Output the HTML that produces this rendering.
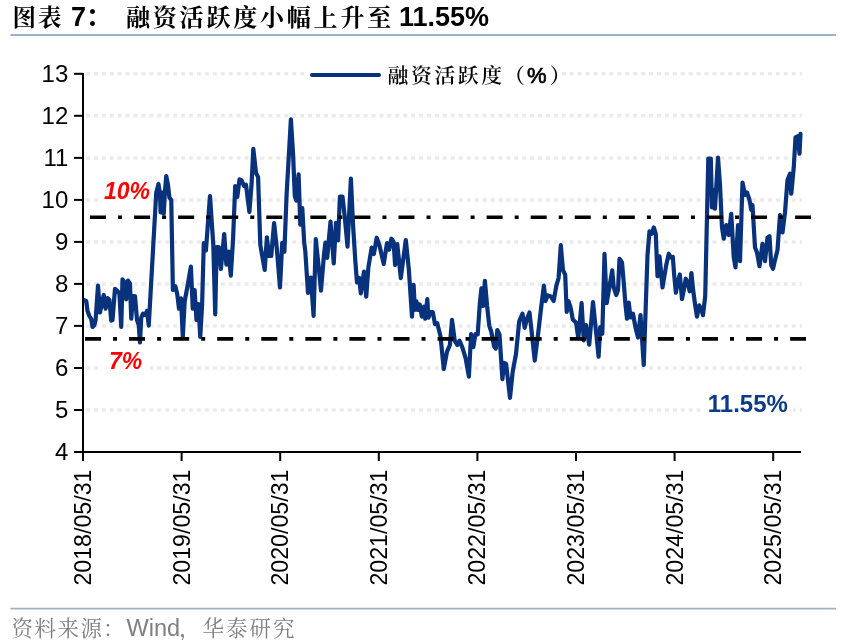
<!DOCTYPE html>
<html><head><meta charset="utf-8"><style>
html,body{margin:0;padding:0;background:#fff;}
body{width:841px;height:640px;overflow:hidden;position:relative;}
svg{position:absolute;left:0;top:0;}
.ax{font-family:"Liberation Sans",Arial,sans-serif;font-size:24px;fill:#000;}
.cjk{font-family:"Liberation Serif","Noto Serif CJK SC",serif;}
</style></head><body>
<svg width="841" height="640" viewBox="0 0 841 640">
<text y="26" style="font-family:'Liberation Serif','Noto Serif CJK SC',serif;font-size:23.5px;font-weight:700;fill:#000;letter-spacing:2px"><tspan x="12.5">图表</tspan></text>
<text x="71" y="26" style="font-family:'Liberation Sans',sans-serif;font-size:27px;font-weight:bold;fill:#000">7</text>
<text x="86" y="26" style="font-family:'Liberation Sans','Noto Sans CJK SC',sans-serif;font-size:26px;font-weight:bold;fill:#000">：</text>
<text x="126" y="26" style="font-family:'Liberation Serif','Noto Serif CJK SC',serif;font-size:24px;font-weight:700;fill:#000;letter-spacing:2.8px">融资活跃度小幅上升至</text>
<text x="399" y="26" style="font-family:'Liberation Sans',sans-serif;font-size:27px;font-weight:bold;fill:#000">11.55%</text>
<line x1="10.5" y1="35" x2="836" y2="35" stroke="#9db1cb" stroke-width="2"/>
<line x1="86" y1="410.0" x2="802" y2="410.0" stroke="#ebebeb" stroke-width="3.5" stroke-dasharray="4 3.93"/>
<line x1="86" y1="368.0" x2="802" y2="368.0" stroke="#ebebeb" stroke-width="3.5" stroke-dasharray="4 3.93"/>
<line x1="86" y1="325.9" x2="802" y2="325.9" stroke="#ebebeb" stroke-width="3.5" stroke-dasharray="4 3.93"/>
<line x1="86" y1="283.9" x2="802" y2="283.9" stroke="#ebebeb" stroke-width="3.5" stroke-dasharray="4 3.93"/>
<line x1="86" y1="241.9" x2="802" y2="241.9" stroke="#ebebeb" stroke-width="3.5" stroke-dasharray="4 3.93"/>
<line x1="86" y1="199.9" x2="802" y2="199.9" stroke="#ebebeb" stroke-width="3.5" stroke-dasharray="4 3.93"/>
<line x1="86" y1="157.9" x2="802" y2="157.9" stroke="#ebebeb" stroke-width="3.5" stroke-dasharray="4 3.93"/>
<line x1="86" y1="115.8" x2="802" y2="115.8" stroke="#ebebeb" stroke-width="3.5" stroke-dasharray="4 3.93"/>
<line x1="86" y1="73.8" x2="802" y2="73.8" stroke="#ebebeb" stroke-width="3.5" stroke-dasharray="4 3.93"/>

<rect x="307" y="62" width="255" height="26" fill="#fff"/>
<line x1="312" y1="75" x2="379" y2="75" stroke="#08327c" stroke-width="4" stroke-linecap="round"/>
<text y="83.2" style="font-family:'Liberation Serif','Noto Serif CJK SC',serif;font-size:20.8px;font-weight:600;fill:#000"><tspan x="387.5 411 434.4 457.8 481.2">融资活跃度</tspan><tspan x="504">（</tspan><tspan x="549.8">）</tspan></text>
<text x="527" y="83.3" style="font-family:'Liberation Sans',sans-serif;font-size:22px;fill:#000;stroke:#000;stroke-width:0.7px">%</text>
<polyline points="84,300 85,300.6 86.25,301 87.5,311 89.4,316 91.25,319 92.5,327 94.4,325 95.6,320 98,285.6 100,312.5 102,302.5 103.75,295 105.6,308.75 107.5,298 109.4,300 111.25,320.6 112.5,320 115,288.75 117.5,291 119.4,293.75 121.25,327 122.5,279.4 124.4,281.9 126.25,299.4 128,280.6 130,283.75 131.25,318.75 133,296 135,296 137,320 138.75,325 140,342.5 141.25,317.5 143,313.75 145,315 147,311 148.75,325.6 156.25,192.5 158.5,184 160,194 160.6,212.5 162.5,192.5 163.75,213.75 165,191 166.25,176 168,185 169.4,197.5 171.25,200 172.9,290 175.3,286.25 177.2,293.75 179,308.75 181,298.4 182.8,336.9 184.7,301.25 187.5,286.25 190.9,266.6 192.75,308.75 194.6,290 196.5,320 198.4,304 200.25,336.9 202.1,305 203.8,243 205.9,250.6 210,196 213.3,245 215.25,314.4 216.6,247 218.75,247 220.9,269 224.2,234 226.4,264.7 228.6,251.6 230.8,275.6 233,240.6 235.2,186 237.3,197 239.5,179.4 241.7,180.5 244,186 246,184.8 249.4,212 251.6,183.75 253.3,148.75 256,172.8 258.1,177.2 260.3,245 264.7,270 266.9,237.3 269,256 271.25,256 274.1,223 276.7,247.2 280,287.5 282.2,242.8 284.4,251.6 286.6,194.7 290.9,119.3 293.1,154.7 294.8,196 296.4,200.6 298.6,174.4 300.3,224.7 302.3,208 304.2,242.5 305.3,251.25 308,292.8 310.8,277.5 313.6,315.8 315.8,239.2 318.4,264.4 321,290.6 323.9,255.6 325.4,242.5 327.2,257.8 330.5,221.7 333.75,263.3 336,222.8 338.1,240.3 339.9,196.6 342.5,196.6 344.7,216.25 347.5,246.6 350.9,178.6 353.1,225.6 355.3,260.6 357,282.5 359.25,278 360.8,293.4 364,271.6 366.25,296.7 368.4,267.2 371.7,247.5 373.9,254 376.75,237.7 379.4,245.3 383.75,264 387,243 389.2,249.7 391.4,238.75 393.6,242 395.1,265 397.3,244.2 400.8,278.1 405.8,240 408.75,268.4 412,316.6 413.6,284.8 414.9,310 416.4,301.25 418,310 419.7,304.5 421.9,316.6 424,306.7 425.2,318.75 427.3,299 428.4,317.7 430.6,312.2 432.8,312.2 435,324.2 437.2,323.1 440.5,336.25 443.75,369 447,351.6 449.9,345 452,319.8 454.7,340.6 457.3,345 459.5,340.6 462.3,347.2 465.6,358.1 468.9,376.7 471.1,334 473.3,347.2 475.5,334 477.7,334.4 479.8,303.75 481.4,288.4 483.1,306 484.9,280.8 487.1,306 489.25,325.6 491.4,332.2 494.1,346.4 495.8,348.6 497.3,330 499.5,334.4 502.4,379.2 503.9,362.8 506.1,363.9 510,397.8 512.7,371.6 516,354 519.2,321.25 522.5,313.6 524.7,327.8 526.9,319 529.5,312.5 531.7,332.2 534.75,360.6 537.8,336.6 541.1,308.1 543.9,285.6 545.5,301 547.7,295.5 550.9,296.6 553.6,301 556.4,285.6 558.6,278 560.8,245.2 563,270.3 565.2,274.7 566.7,311.9 568.4,301 570.6,307.5 572.8,319.5 576.1,322.8 578.3,338.1 581.6,303.1 583.75,340.3 586,325 589.2,344.7 593,302 595.8,329.4 598.6,356.7 600.2,327.2 602.3,333.75 604.5,253.9 606.7,303.1 612.2,270.3 613.75,287.5 616.25,295 618,290 619.5,258.75 622,262.5 623.75,282.5 625.5,305 627,318.75 628.75,302.5 630.5,317.5 633,313.75 635.5,327.5 638,337.5 640.5,315 643.75,365 647.5,255 649.5,231.25 651.75,233.75 653.75,227.5 655.75,233.75 657.5,276.25 659.5,256.25 662.5,287.5 666.25,265 668.75,253.75 671.1,257.6 672.8,256.9 674.2,275.2 675.9,292.7 677.7,282.2 679.8,274.5 682,299 684,289.2 685.75,278.7 687.6,282.2 689.7,291.3 691.4,273 693.2,290.6 695.3,306.1 697,316.6 699.25,305.4 701.2,308.9 703,315.2 705.2,296.25 708.3,158.5 710.8,158.5 712,207.5 713.75,190 715,208.75 718,157.5 720,185 722,227.5 723.75,238.75 726.25,225 728.75,235 731.25,213.75 733.75,257.5 735.5,267.5 738,225 740,261.25 742.5,182.5 745,195 747,192.5 749.5,200 751.25,210 752.5,205 755,247.5 757,252.5 759.5,266.25 762.5,243.75 765,261.25 767.5,237.5 769.5,236.25 771.25,265 773,268.75 775,260 777.5,250 780,215 782.5,232.5 785,212.5 787.5,180 790,173.75 791.25,193.75 793.75,167.5 795.5,137.5 798,136.25 799.5,153.75 800.5,133.75" fill="none" stroke="#08327c" stroke-width="4.2" stroke-linejoin="round" stroke-linecap="round"/>
<line x1="90" y1="217.3" x2="811" y2="217.3" stroke="#000" stroke-width="3.6" stroke-dasharray="16 12.035 4 12.035"/>
<line x1="85" y1="338.9" x2="806" y2="338.9" stroke="#000" stroke-width="3.6" stroke-dasharray="16 12.035 4 12.035"/>
<line x1="83" y1="73" x2="83" y2="453" stroke="#000" stroke-width="2"/>
<line x1="82" y1="452" x2="801" y2="452" stroke="#000" stroke-width="2"/>
<line x1="74" y1="452.0" x2="83" y2="452.0" stroke="#000" stroke-width="2"/>
<text x="68.3" y="459.8" text-anchor="end" class="ax">4</text>
<line x1="74" y1="410.0" x2="83" y2="410.0" stroke="#000" stroke-width="2"/>
<text x="68.3" y="417.8" text-anchor="end" class="ax">5</text>
<line x1="74" y1="368.0" x2="83" y2="368.0" stroke="#000" stroke-width="2"/>
<text x="68.3" y="375.8" text-anchor="end" class="ax">6</text>
<line x1="74" y1="325.9" x2="83" y2="325.9" stroke="#000" stroke-width="2"/>
<text x="68.3" y="333.7" text-anchor="end" class="ax">7</text>
<line x1="74" y1="283.9" x2="83" y2="283.9" stroke="#000" stroke-width="2"/>
<text x="68.3" y="291.7" text-anchor="end" class="ax">8</text>
<line x1="74" y1="241.9" x2="83" y2="241.9" stroke="#000" stroke-width="2"/>
<text x="68.3" y="249.7" text-anchor="end" class="ax">9</text>
<line x1="74" y1="199.9" x2="83" y2="199.9" stroke="#000" stroke-width="2"/>
<text x="68.3" y="207.7" text-anchor="end" class="ax">10</text>
<line x1="74" y1="157.9" x2="83" y2="157.9" stroke="#000" stroke-width="2"/>
<text x="68.3" y="165.7" text-anchor="end" class="ax">11</text>
<line x1="74" y1="115.8" x2="83" y2="115.8" stroke="#000" stroke-width="2"/>
<text x="68.3" y="123.6" text-anchor="end" class="ax">12</text>
<line x1="74" y1="73.8" x2="83" y2="73.8" stroke="#000" stroke-width="2"/>
<text x="68.3" y="81.6" text-anchor="end" class="ax">13</text>

<line x1="83.0" y1="451" x2="83.0" y2="461" stroke="#000" stroke-width="2"/>
<text transform="translate(91.0,469.5) rotate(-90)" text-anchor="end" class="ax" style="font-size:23.2px">2018/05/31</text>
<line x1="181.6" y1="451" x2="181.6" y2="461" stroke="#000" stroke-width="2"/>
<text transform="translate(189.6,469.5) rotate(-90)" text-anchor="end" class="ax" style="font-size:23.2px">2019/05/31</text>
<line x1="280.2" y1="451" x2="280.2" y2="461" stroke="#000" stroke-width="2"/>
<text transform="translate(288.2,469.5) rotate(-90)" text-anchor="end" class="ax" style="font-size:23.2px">2020/05/31</text>
<line x1="378.8" y1="451" x2="378.8" y2="461" stroke="#000" stroke-width="2"/>
<text transform="translate(386.8,469.5) rotate(-90)" text-anchor="end" class="ax" style="font-size:23.2px">2021/05/31</text>
<line x1="477.4" y1="451" x2="477.4" y2="461" stroke="#000" stroke-width="2"/>
<text transform="translate(485.4,469.5) rotate(-90)" text-anchor="end" class="ax" style="font-size:23.2px">2022/05/31</text>
<line x1="576.0" y1="451" x2="576.0" y2="461" stroke="#000" stroke-width="2"/>
<text transform="translate(584.0,469.5) rotate(-90)" text-anchor="end" class="ax" style="font-size:23.2px">2023/05/31</text>
<line x1="674.6" y1="451" x2="674.6" y2="461" stroke="#000" stroke-width="2"/>
<text transform="translate(682.6,469.5) rotate(-90)" text-anchor="end" class="ax" style="font-size:23.2px">2024/05/31</text>
<line x1="773.2" y1="451" x2="773.2" y2="461" stroke="#000" stroke-width="2"/>
<text transform="translate(781.2,469.5) rotate(-90)" text-anchor="end" class="ax" style="font-size:23.2px">2025/05/31</text>

<rect x="101" y="179" width="50" height="23" fill="#fff"/>
<text x="104" y="199.2" style="font-family:'Liberation Sans',Arial,sans-serif;font-size:23px;font-weight:bold;font-style:italic;fill:#f00">10%</text>
<rect x="100" y="348" width="50" height="24" fill="#fff"/>
<text x="109" y="369.2" style="font-family:'Liberation Sans',Arial,sans-serif;font-size:23px;font-weight:bold;font-style:italic;fill:#f00">7%</text>
<rect x="703" y="392" width="90" height="24" fill="#fff"/>
<text x="707.8" y="411.8" style="font-family:'Liberation Sans',Arial,sans-serif;font-size:24px;font-weight:bold;fill:#0c3a88">11.55%</text>
<line x1="10.5" y1="608.6" x2="836" y2="608.6" stroke="#9db1cb" stroke-width="1.6"/>
<text y="636" style="font-family:'Liberation Serif','Noto Serif CJK SC',serif;font-size:21.5px;fill:#7f7f7f"><tspan x="11.5 34.5 57.5 80.5 103">资料来源：</tspan><tspan x="179 202.5 226 249.5 273">，华泰研究</tspan></text>
<text x="126.5" y="636" style="font-family:'Liberation Sans',sans-serif;font-size:23.5px;fill:#7f7f7f">Wind</text>
</svg>
</body></html>
